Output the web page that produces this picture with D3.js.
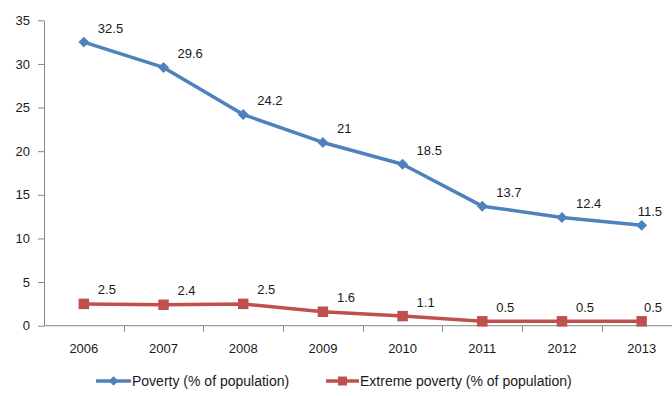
<!DOCTYPE html>
<html>
<head>
<meta charset="utf-8">
<script src="https://cdn.jsdelivr.net/npm/d3@7"></script>
<style>
  html, body { margin: 0; padding: 0; background: #fff; }
  svg { display: block; font-family: "Liberation Sans", Arial, sans-serif; }
</style>
</head>
<body>
<svg id="chart" width="672" height="396"></svg>
<script>
// Poverty rates by year
const years = ["2006", "2007", "2008", "2009", "2010", "2011", "2012", "2013"];
const poverty = [32.5, 29.6, 24.2, 21, 18.5, 13.7, 12.4, 11.5];
const extremePoverty = [2.5, 2.4, 2.5, 1.6, 1.1, 0.5, 0.5, 0.5];
const yTicks = [0, 5, 10, 15, 20, 25, 30, 35];
const seriesNames = ["Poverty (% of population)", "Extreme poverty (% of population)"];

const W = 672, H = 396;
const plot = { left: 44, right: 681.5, top: 20.3, bottom: 325.7 };
const blue = "#4F81BD", red = "#C0504D", axisColor = "#868686", textColor = "#1a1a1a";

const svg = d3.select("#chart");

const x = d3.scaleBand().domain(years).range([plot.left, plot.right]);
const y = d3.scaleLinear().domain([0, 35]).range([plot.bottom, plot.top]);
const cx = d => x(d) + x.bandwidth() / 2;

// Y axis
const yAxis = svg.append("g")
  .attr("transform", `translate(${plot.left},0)`)
  .call(d3.axisLeft(y).tickValues(yTicks).tickSize(6).tickPadding(8).tickSizeOuter(0));
yAxis.select(".domain").attr("stroke", axisColor);
yAxis.selectAll(".tick line").attr("stroke", axisColor);
yAxis.selectAll(".tick text").attr("fill", textColor).style("font-size", "13px")
  .style("font-family", "Liberation Sans, Arial, sans-serif");

// X axis: ticks sit on the band boundaries
const xAxisG = svg.append("g").attr("transform", `translate(0,${plot.bottom})`);
xAxisG.append("line")
  .attr("x1", plot.left).attr("x2", plot.right)
  .attr("stroke", axisColor);
const bounds = years.map(d => x(d)).concat([plot.right]);
xAxisG.selectAll("line.tk").data(bounds.slice(1)).enter().append("line")
  .attr("class", "tk")
  .attr("x1", d => Math.round(d) + 0.5).attr("x2", d => Math.round(d) + 0.5)
  .attr("y1", 0).attr("y2", 6)
  .attr("stroke", axisColor);
xAxisG.selectAll("text").data(years).enter().append("text")
  .attr("x", d => cx(d)).attr("y", 27)
  .attr("text-anchor", "middle")
  .attr("fill", textColor)
  .style("font-size", "13px")
  .text(d => d);

// Markers: the diamond is a square turned by 45 degrees
const series = [
  { values: poverty, color: blue, marker: d3.symbolSquare, size: 60, rot: 45 },
  { values: extremePoverty, color: red, marker: d3.symbolSquare, size: 110, rot: 0 }
];

const line = d3.line().x((d, i) => cx(years[i])).y(d => y(d));

series.forEach(s => {
  const g = svg.append("g");
  g.append("path")
    .datum(s.values)
    .attr("d", line)
    .attr("fill", "none")
    .attr("stroke", s.color)
    .attr("stroke-width", 3.5)
    .attr("stroke-linejoin", "round");
  g.selectAll("path.mk").data(s.values).enter().append("path")
    .attr("class", "mk")
    .attr("d", d3.symbol().type(s.marker).size(s.size))
    .attr("transform", (d, i) => `translate(${cx(years[i])},${y(d)}) rotate(${s.rot})`)
    .attr("fill", s.color);
  // value labels, kept inside the right edge
  g.selectAll("text").data(s.values).enter().append("text")
    .attr("y", d => y(d) - 9.5)
    .attr("fill", textColor)
    .style("font-size", "13px")
    .text(d => d)
    .attr("x", function (d, i) {
      const w = this.getComputedTextLength();
      return Math.min(cx(years[i]) + 14, 662 - w);
    });
});

// Legend
const legend = svg.append("g").attr("transform", "translate(0,381)");
const legendItems = [
  { name: seriesNames[0], color: blue, marker: d3.symbolSquare, size: 44, rot: 45, x1: 96, x2: 131 },
  { name: seriesNames[1], color: red, marker: d3.symbolSquare, size: 80, rot: 0, x1: 326, x2: 359 }
];
legendItems.forEach(it => {
  legend.append("line")
    .attr("x1", it.x1).attr("x2", it.x2)
    .attr("stroke", it.color).attr("stroke-width", 3.5);
  legend.append("path")
    .attr("d", d3.symbol().type(it.marker).size(it.size))
    .attr("transform", `translate(${(it.x1 + it.x2) / 2},0) rotate(${it.rot})`)
    .attr("fill", it.color);
  legend.append("text")
    .attr("x", it.x2 + 1).attr("y", 5)
    .attr("fill", textColor)
    .style("font-size", "14px")
    .text(it.name);
});
</script>
</body>
</html>
